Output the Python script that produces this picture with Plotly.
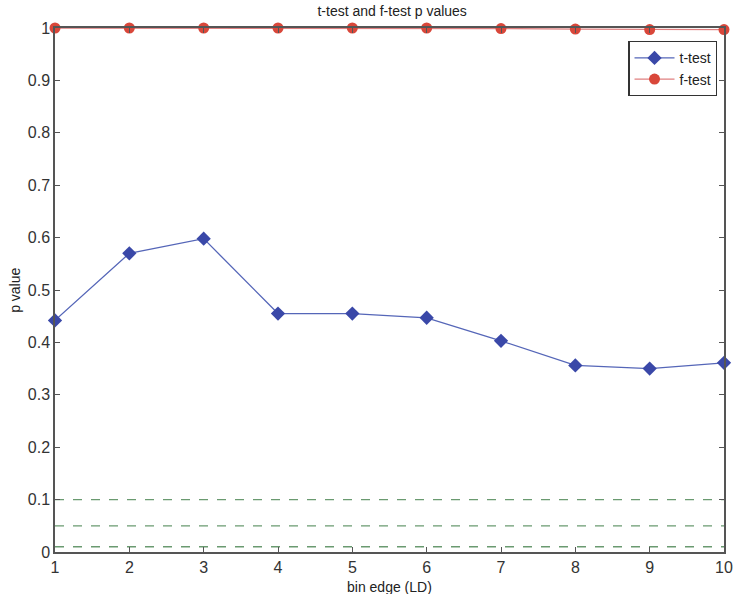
import plotly.graph_objects as go

bin_edge = [1, 2, 3, 4, 5, 6, 7, 8, 9, 10]
t_test = [0.442, 0.570, 0.598, 0.455, 0.455, 0.447, 0.403, 0.356, 0.350, 0.361]
f_test = [1.0, 1.0, 1.0, 1.0, 1.0, 1.0, 0.999, 0.998, 0.997, 0.997]
thresholds = [0.1, 0.05, 0.01]
y_ticks = [0, 0.1, 0.2, 0.3, 0.4, 0.5, 0.6, 0.7, 0.8, 0.9, 1]
y_tick_text = ["0", "0.1", "0.2", "0.3", "0.4", "0.5", "0.6", "0.7", "0.8", "0.9", "1"]

FONT = "Arial, Liberation Sans, Helvetica"

fig = go.Figure()

for th in thresholds:
    fig.add_trace(go.Scatter(
        x=[bin_edge[0], bin_edge[-1]], y=[th, th], mode="lines",
        line=dict(color="#6a9a70", width=1.3, dash="dash"),
        showlegend=False, hoverinfo="skip"))

fig.add_trace(go.Scatter(
    x=bin_edge, y=t_test, mode="lines+markers", name="t-test",
    line=dict(color="#5566b8", width=1.3),
    marker=dict(symbol="diamond", size=11, color="#3a48a8"),
    cliponaxis=False))

fig.add_trace(go.Scatter(
    x=bin_edge, y=f_test, mode="lines+markers", name="f-test",
    line=dict(color="#e08080", width=1.3),
    marker=dict(symbol="circle", size=11, color="#d9473a"),
    cliponaxis=False))

axis_common = dict(
    showline=True, linecolor="#555555", linewidth=1.5, mirror="ticks",
    ticks="inside", ticklen=5, tickcolor="#555555", showgrid=False, zeroline=False,
    automargin=False,
    tickfont=dict(family=FONT, size=16, color="#333333"),
)

fig.update_layout(
    width=733, height=594,
    margin=dict(l=55, r=9, t=28, b=42),
    paper_bgcolor="white", plot_bgcolor="white",
    title=dict(text="t-test and f-test p values", x=0.535, xanchor="center",
               y=0.99, yanchor="top",
               font=dict(family=FONT, size=14, color="#222222")),
    xaxis=dict(range=[1, 10], tickvals=bin_edge, **axis_common),
    yaxis=dict(range=[0, 1], tickvals=y_ticks, ticktext=y_tick_text, **axis_common),
    legend=dict(x=0.99, y=0.975, xanchor="right", yanchor="top",
                bgcolor="white", bordercolor="#333333", borderwidth=1.2,
                font=dict(family=FONT, size=14, color="#222222"),
                tracegroupgap=0, itemwidth=40),
    showlegend=True,
    annotations=[
        dict(text="bin edge (LD)", xref="paper", yref="paper", x=0.5, y=-0.066,
             xanchor="center", yanchor="middle", showarrow=False,
             font=dict(family=FONT, size=14, color="#222222")),
        dict(text="p value", xref="paper", yref="paper", x=-0.06, y=0.5,
             xanchor="center", yanchor="middle", showarrow=False, textangle=-90,
             font=dict(family=FONT, size=14, color="#222222")),
    ],
)

fig.write_html("out.html", config={"displayModeBar": False},
               post_script="document.body.style.margin='0';")
